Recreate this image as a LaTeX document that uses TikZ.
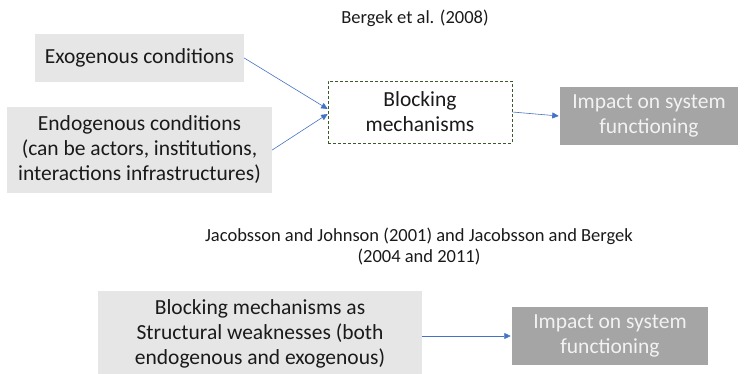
\documentclass[tikz,border=0pt]{standalone}
\usepackage{fontspec}
\setmainfont{Carlito}
\usetikzlibrary{arrows.meta}
\definecolor{boxgray}{HTML}{E7E6E6}
\definecolor{impgray}{HTML}{A5A5A5}
\definecolor{impline}{HTML}{D0D0D0}
\definecolor{arrowblue}{HTML}{4472C4}
\definecolor{dashgreen}{HTML}{3B5A2C}
\definecolor{txt}{HTML}{1A1A1A}
\tikzset{
  boxtext/.style={font=\fontsize{21.5}{25}\selectfont, text=txt, align=center, inner sep=0pt},
  condbox/.style={boxtext, fill=boxgray},
  mechbox/.style={boxtext, fill=white, draw=dashgreen, dash pattern=on 3pt off 2pt, line width=0.7pt},
  impactbox/.style={boxtext, text=white!95!black, fill=impgray, draw=impline, double=white, double distance=1.4pt, line width=0.5pt},
  heading/.style={font=\fontsize{18.5}{21}\selectfont, text=txt, align=center, inner sep=0pt},
  flow/.style={draw=arrowblue, line width=0.6pt, -{Triangle[length=6.5pt,width=6pt]}}
}
\begin{document}
\begin{tikzpicture}[x=1pt,y=-1pt]
  \useasboundingbox (0,0) rectangle (747,374);

  % upper scheme
  \node[heading] (t1) at (415,18) {Bergek et al. (2008)};
  \node[condbox, minimum width=209pt, minimum height=48pt] (exo) at (139.5,58) {\raisebox{4pt}{Exogenous conditions}};
  \node[condbox, minimum width=265pt, minimum height=86pt] (endo) at (139.5,150)
    {Endogenous conditions\\(can be actors, institutions,\\interactions infrastructures)};
  \node[mechbox, minimum width=184pt, minimum height=62pt] (block) at (420,112) {Blocking\\mechanisms};
  \node[impactbox, minimum width=180pt, minimum height=60pt] (imp1) at (649,116) {Impact on system\\functioning};

  \draw[flow] (exo.east) -- ([yshift=3pt]block.west);
  \draw[flow] (endo.east) -- ([yshift=-2pt]block.west);
  \draw[flow] (block.east) -- (imp1.west);

  % lower scheme
  \node[heading] (t2) at (419,247) {Jacobsson and Johnson (2001) and Jacobsson and Bergek\\(2004 and 2011)};
  \node[condbox, minimum width=324pt, minimum height=86pt] (weak) at (260,334)
    {Blocking mechanisms as\\Structural weaknesses (both\\endogenous and exogenous)};
  \node[impactbox, minimum width=198pt, minimum height=60pt] (imp2) at (610,336) {Impact on system\\functioning};

  \draw[flow] (weak.east |- imp2.west) -- (imp2.west);
\end{tikzpicture}
\end{document}
